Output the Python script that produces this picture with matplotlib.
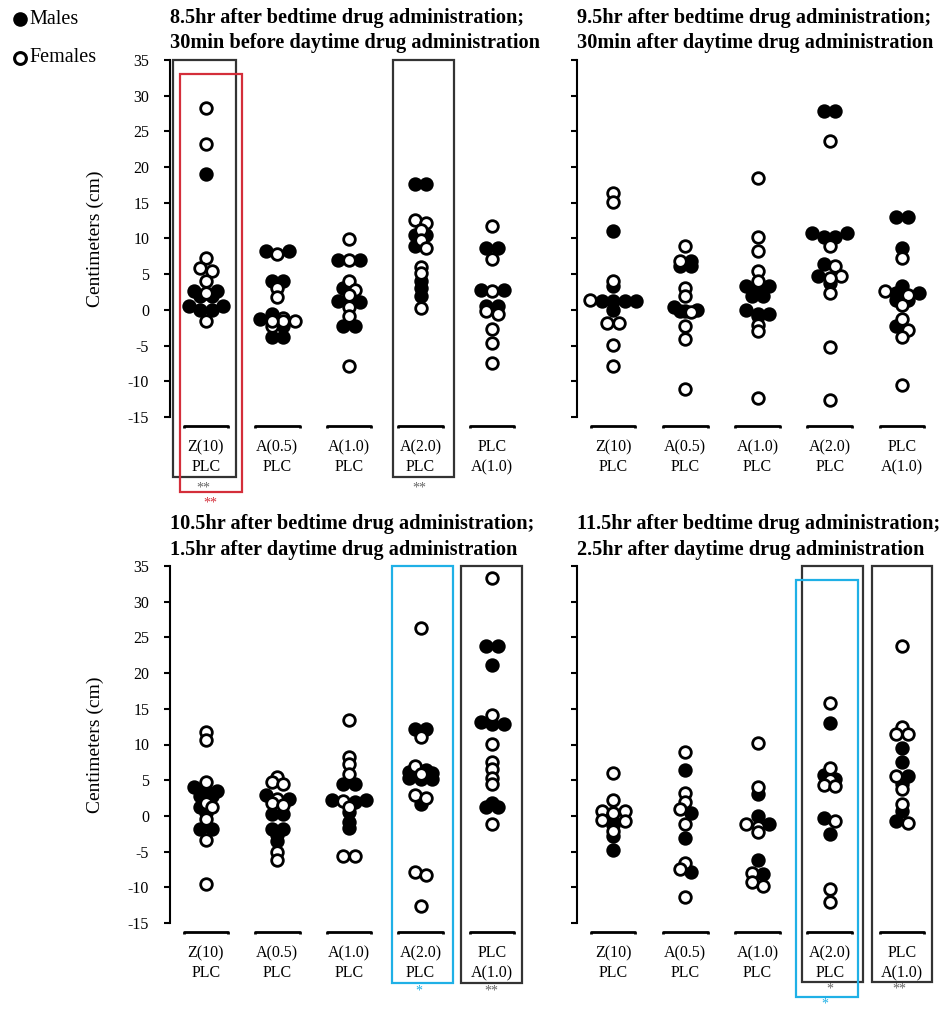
import numpy as np
import matplotlib.pyplot as plt
from matplotlib.lines import Line2D
from matplotlib.patches import Rectangle

plt.rcParams['font.family'] = ['Liberation Serif', 'DejaVu Serif']
plt.rcParams['axes.unicode_minus'] = False

# ---- data (cm change) ----
groups = ['Z(10)\nPLC', 'A(0.5)\nPLC', 'A(1.0)\nPLC', 'A(2.0)\nPLC', 'PLC\nA(1.0)']

titles = [
    ('8.5hr after bedtime drug administration;', '30min before daytime drug administration'),
    ('9.5hr after bedtime drug administration;', '30min after daytime drug administration'),
    ('10.5hr after bedtime drug administration;', '1.5hr after daytime drug administration'),
    ('11.5hr after bedtime drug administration;', '2.5hr after daytime drug administration'),
]

p1_males = [
    [19.0, 2.7, 2.7, 1.9, 1.9, 0.6, 0.6, 0.0, 0.0],
    [8.3, 8.3, 4.1, 4.1, -0.6, -1.3, -2.3, -3.75, -3.75],
    [7.0, 7.0, 3.1, 1.1, 1.2, 0.8, -2.3, -2.2],
    [17.65, 17.65, 10.5, 10.5, 9.0, 4.1, 3.0, 2.0],
    [8.7, 8.7, 2.8, 2.8, 0.5, 0.5],
]
p1_females = [
    [28.3, 23.3, 7.3, 5.8, 5.4, 4.1, 2.3, -1.6],
    [7.85, 3.1, 1.8, -1.2, -1.6, -2.2, -1.5, -1.5],
    [9.95, 7.0, 4.1, 2.85, 2.15, 0.45, -0.8, -7.8],
    [12.6, 12.2, 11.25, 9.8, 8.7, 6.0, 5.2, 0.3],
    [11.7, 7.15, 2.7, -0.2, -0.55, -2.65, -4.6, -7.4],
]

p2_males = [
    [11.0, 3.4, 1.2, 1.2, 1.2, 1.2, 0.05],
    [6.8, 6.2, 6.1, 0.4, 0.0, -0.1, -0.2],
    [3.4, 3.3, 3.2, 2.0, 2.0, 0.0, -0.55, -0.55, -0.9],
    [27.8, 27.8, 10.75, 10.75, 10.2, 10.2, 6.45, 4.8, 3.7],
    [13.0, 13.0, 8.65, 3.4, 2.35, 2.35, 1.4, 1.4, -2.2],
]
p2_females = [
    [16.35, 15.1, 4.1, 1.4, -1.9, -1.9, -4.95, -7.9],
    [9.0, 6.9, 3.1, 1.9, -0.25, -2.3, -4.1, -11.1],
    [18.5, 10.2, 8.2, 5.4, 4.1, -2.05, -2.9, -12.3],
    [23.65, 8.9, 6.1, 4.7, 4.5, 2.4, -5.2, -12.6],
    [7.3, 2.6, 2.1, 0.7, -1.25, -2.8, -3.8, -10.5],
]

p3_males = [
    [4.05, 3.45, 3.45, 2.8, 2.8, 1.25, 0.45, -1.9, -1.9],
    [2.9, 2.4, 0.2, 0.2, -1.9, -1.9, -2.7, -3.55],
    [4.4, 4.4, 2.2, 2.2, 2.0, 0.55, -0.85, -1.65],
    [12.15, 12.15, 6.4, 6.15, 6.0, 5.3, 5.2, 5.1, 1.6],
    [23.8, 23.8, 21.1, 13.15, 12.85, 12.85, 1.85, 1.25, 1.25],
]
p3_females = [
    [11.75, 10.7, 4.75, 1.85, 1.25, -0.45, -3.4, -9.6],
    [5.45, 4.75, 4.5, 2.35, 1.85, 1.5, -5.1, -6.2],
    [13.4, 8.2, 7.3, 5.8, 2.05, 1.25, -5.6, -5.6],
    [26.3, 11.05, 7.0, 5.9, 2.9, 2.5, -7.9, -8.3, -12.6],
    [33.3, 14.1, 10.05, 7.5, 6.6, 5.3, 4.5, -1.1],
]

p4_males = [
    [-0.8, -1.3, -2.8, -4.75],
    [6.45, 0.45, -3.05, -7.8],
    [3.05, 0.0, -1.15, -6.15, -8.15],
    [12.95, 5.7, 5.2, -0.3, -2.5],
    [9.55, 7.5, 5.6, 4.45, 0.75, -0.65],
]
p4_females = [
    [6.0, 2.25, 0.75, 0.75, 0.35, -0.55, -0.65, -2.05],
    [9.0, 3.25, 2.0, 0.95, -1.15, -6.6, -7.4, -11.4],
    [10.25, 4.1, -1.1, -1.5, -2.2, -8.0, -9.3, -9.8],
    [15.85, 6.75, 5.05, 4.35, 4.25, -0.65, -10.2, -12.0],
    [23.85, 12.4, 11.5, 11.5, 5.65, 3.8, 1.7, -1.0],
]

males = [p1_males, p2_males, p3_males, p4_males]
females = [p1_females, p2_females, p3_females, p4_females]

# significance marks: (x0, x1, y_top, y_bottom, colour, stars, star_x, star_y)
BLACK = '#333333'
RED = '#d42e3a'
BLUE = '#1fb0e6'
GREY = '#666666'
marks = [
    [(0.54, 1.42, 35.0, -23.4, BLACK, '**', 0.96, -24.9),
     (0.64, 1.50, 33.0, -25.5, RED, '**', 1.07, -27.0),
     (3.62, 4.47, 35.0, -23.4, BLACK, '**', 3.98, -24.9)],
    [],
    [(3.60, 4.45, 35.0, -23.4, BLUE, '*', 3.98, -24.5),
     (4.56, 5.42, 35.0, -23.4, BLACK, '**', 4.99, -24.5)],
    [(3.61, 4.46, 35.0, -23.2, BLACK, '*', 4.00, -24.3),
     (3.54, 4.39, 33.1, -25.3, BLUE, '*', 3.93, -26.4),
     (4.58, 5.42, 35.0, -23.2, BLACK, '**', 4.97, -24.3)],
]

W, H = 948, 1009
fig = plt.figure(figsize=(W / 100, H / 100), dpi=100)

# axes boxes in pixels: left, top, width, height
boxes = [(170, 60, 358, 357), (577, 60, 361, 357),
         (170, 566, 358, 357), (577, 566, 361, 357)]


def swarm(vals, width=0.6, step=0.16):
    vals = np.asarray(vals, dtype=float)
    order = np.argsort(-vals, kind='stable')
    rows = []
    for i in order:
        if rows and rows[-1][0] - vals[i] <= width:
            rows[-1][1].append(i)
        else:
            rows.append([vals[i], [i]])
    offs = np.zeros(len(vals))
    for _, idx in rows:
        n = len(idx)
        slots = (np.arange(n) - (n - 1) / 2) * step
        slot_order = np.argsort(-np.abs(slots), kind='stable')
        for k, i in zip(slot_order, idx):
            offs[i] = slots[k]
    return offs


for p in range(4):
    l, t, w, h = boxes[p]
    ax = fig.add_axes([l / W, 1 - (t + h) / H, w / W, h / H])
    ax.set_xlim(0.5, 5.5)
    ax.set_ylim(-15, 35)
    for s in ['top', 'right', 'bottom']:
        ax.spines[s].set_visible(False)
    ax.spines['left'].set_linewidth(1.5)
    ax.set_xticks([])
    ax.set_yticks(np.arange(-15, 36, 5))
    ax.tick_params(axis='y', direction='out', length=4, width=1.5,
                   labelsize=11.5, pad=11)
    if p % 2 == 0:
        ax.set_ylabel('Centimeters (cm)', fontsize=14)
        ax.yaxis.set_label_coords(-66 / w, 0.5)
    else:
        ax.set_yticklabels([])

    for g in range(5):
        m = males[p][g]
        f = females[p][g]
        vals = list(m) + list(f)
        sex = [1] * len(m) + [0] * len(f)
        xs = g + 1 + swarm(vals)
        for filled in (1, 0):
            sel = [i for i in range(len(vals)) if sex[i] == filled]
            ax.scatter(xs[sel], np.array(vals)[sel], s=70,
                       facecolor='black' if filled else 'white',
                       edgecolor='black', linewidth=2.0, zorder=3 + (1 - filled),
                       clip_on=False)
        # bracket + labels
        ax.plot([g + 1 - 0.31, g + 1 - 0.31, g + 1 + 0.31, g + 1 + 0.31],
                [-16.6, -16.2, -16.2, -16.6], color='black', lw=2,
                clip_on=False, solid_capstyle='butt')
        ax.text(g + 1, -20.6, groups[g], ha='center', va='center',
                fontsize=11.5, linespacing=1.33, clip_on=False)

    for x0, x1, yt, yb, col, st, sx, sy in marks[p]:
        ax.add_patch(Rectangle((x0, yb), x1 - x0, yt - yb, fill=False,
                               edgecolor=col, lw=1.6, clip_on=False, zorder=2))
        ax.text(sx, sy, st, ha='center', va='center', fontsize=10,
                color=GREY if col == BLACK else col, clip_on=False)

    ty = [18, 43] if p < 2 else [524, 550]
    for line, yy in zip(titles[p], ty):
        fig.text(l / W, 1 - yy / H, line, ha='left', va='center',
                 fontsize=14.6, fontweight='bold')

# legend
fig.add_artist(Line2D([20 / W], [1 - 19 / H], marker='o', ms=9,
                      mfc='black', mec='black', mew=1.5, transform=fig.transFigure))
fig.add_artist(Line2D([20 / W], [1 - 58 / H], marker='o', ms=8.5,
                      mfc='white', mec='black', mew=2.2, transform=fig.transFigure))
fig.text(29 / W, 1 - 19 / H, 'Males', ha='left', va='center', fontsize=14.5)
fig.text(29 / W, 1 - 58 / H, 'Females', ha='left', va='center', fontsize=14.5)

fig.savefig('out.png', dpi=100)
